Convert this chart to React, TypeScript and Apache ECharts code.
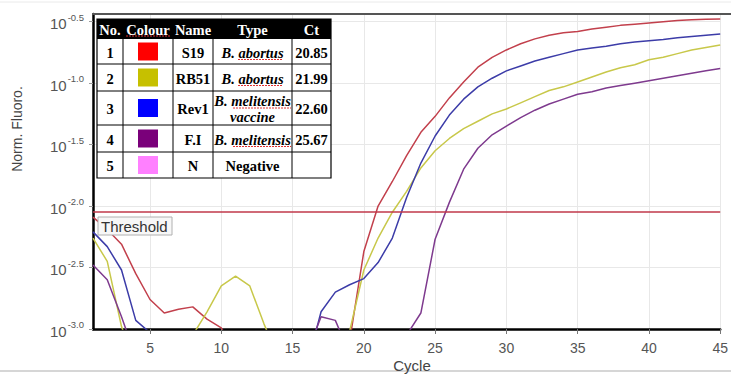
import React, { useEffect, useRef } from "react";
import * as echarts from "echarts";

// ---------- data ----------
const cycles = ["1","2","3","4","5","6","7","8","9","10","11","12","13","14","15","16","17","18","19","20","21","22","23","24","25","26","27","28","29","30","31","32","33","34","35","36","37","38","39","40","41","42","43","44","45"];

// log10(normalised fluorescence)
const s19 = [-2.09,-2.19,-2.31,-2.55,-2.76,-2.87,-2.84,-2.82,-2.92,-2.99,-3.2,null,null,null,null,null,null,null,-3.1,-2.37,-2.0,-1.8,-1.59,-1.4,-1.27,-1.12,-0.99,-0.87,-0.79,-0.73,-0.68,-0.64,-0.61,-0.59,-0.58,-0.56,-0.545,-0.53,-0.52,-0.51,-0.5,-0.49,-0.485,-0.48,-0.478];
const rb51 = [-2.26,-2.45,-2.98,-3.3,null,null,null,-3.05,-2.86,-2.65,-2.57,-2.65,-2.96,-3.23,null,null,null,-3.3,-3.02,-2.52,-2.26,-2.05,-1.88,-1.69,-1.55,-1.45,-1.37,-1.31,-1.25,-1.21,-1.16,-1.11,-1.06,-1.03,-0.99,-0.95,-0.91,-0.875,-0.85,-0.81,-0.79,-0.76,-0.73,-0.71,-0.69];
const rev1 = [-2.21,-2.33,-2.52,-2.93,-3.03,-3.3,null,null,null,null,null,null,null,null,null,-3.3,-2.86,-2.7,-2.64,-2.59,-2.46,-2.26,-1.93,-1.65,-1.43,-1.26,-1.13,-1.03,-0.96,-0.9,-0.86,-0.82,-0.79,-0.76,-0.73,-0.715,-0.7,-0.68,-0.665,-0.655,-0.645,-0.63,-0.62,-0.61,-0.6];
const fi = [-2.48,-2.6,-2.9,-3.23,null,null,null,null,null,null,null,null,null,null,null,-3.2,-2.9,-2.93,-3.2,null,null,-3.3,-3.05,-2.87,-2.27,-1.97,-1.7,-1.53,-1.42,-1.35,-1.28,-1.22,-1.17,-1.13,-1.09,-1.07,-1.04,-1.02,-1.0,-0.98,-0.96,-0.94,-0.92,-0.9,-0.88];
const thresholdLog = -2.046;

// table
const tableHeader = ["No.", "Colour", "Name", "Type", "Ct"];
const tableNo = ["1", "2", "3", "4", "5"];
const tableSwatch = ["#ff0000", "#c6c000", "#0000ff", "#7a007a", "#ff80ff"];
const tableName = ["S19", "RB51", "Rev1", "F.I", "N"];
const tableType = ["B. abortus", "B. abortus", "B. melitensis\nvaccine", "B. melitensis", "Negative"];
const tableCt = ["20.85", "21.99", "22.60", "25.67", ""];

const SANS = "'Liberation Sans', Arial, sans-serif";
const SERIF = "'Liberation Serif', 'Times New Roman', serif";
const TF = 14.5;

function buildTable() {
  const colX = [97, 123, 173, 213, 292, 331];
  const rowY = [19, 39, 64, 91, 125, 152, 178];
  const els: any[] = [];
  els.push({ type: "rect", shape: { x: colX[0], y: rowY[0], width: colX[5] - colX[0], height: rowY[6] - rowY[0] }, style: { fill: "#fff", stroke: "#000", lineWidth: 1.2 }, z: 10 });
  els.push({ type: "rect", shape: { x: colX[0], y: rowY[0], width: colX[5] - colX[0], height: rowY[1] - rowY[0] }, style: { fill: "#000" }, z: 11 });
  for (let r = 2; r < 6; r++) {
    els.push({ type: "line", shape: { x1: colX[0], y1: rowY[r], x2: colX[5], y2: rowY[r] }, style: { stroke: "#000", lineWidth: 1 }, z: 11 });
  }
  for (let c = 1; c < 5; c++) {
    els.push({ type: "line", shape: { x1: colX[c], y1: rowY[1], x2: colX[c], y2: rowY[6] }, style: { stroke: "#000", lineWidth: 1 }, z: 11 });
  }
  const cx = (c: number) => (colX[c] + colX[c + 1]) / 2;
  tableHeader.forEach((h, c) => {
    els.push({ type: "text", x: cx(c), y: (rowY[0] + rowY[1]) / 2 + 1, style: { text: h, fill: "#fff", font: `bold ${TF}px ${SERIF}`, align: "center", verticalAlign: "middle" }, z: 12 });
  });
  // spell-check squiggle under "Colour"
  els.push({ type: "line", shape: { x1: 126, y1: 36, x2: 170, y2: 36 }, style: { stroke: "#e03030", lineWidth: 1, lineDash: [2, 1] }, z: 12 });
  for (let r = 0; r < 5; r++) {
    const cy = (rowY[r + 1] + rowY[r + 2]) / 2 + 1;
    els.push({ type: "text", x: cx(0), y: cy, style: { text: tableNo[r], fill: "#000", font: `bold ${TF}px ${SERIF}`, align: "center", verticalAlign: "middle" }, z: 12 });
    els.push({ type: "rect", shape: { x: cx(1) - 10, y: cy - 10, width: 20, height: 18 }, style: { fill: tableSwatch[r] }, z: 12 });
    els.push({ type: "text", x: cx(2), y: cy, style: { text: tableName[r], fill: "#000", font: `bold ${TF}px ${SERIF}`, align: "center", verticalAlign: "middle" }, z: 12 });
    const italic = tableType[r].startsWith("B.");
    els.push({ type: "text", x: cx(3), y: cy, style: { text: tableType[r], fill: "#000", font: `${italic ? "italic " : ""}bold ${TF}px ${SERIF}`, align: "center", verticalAlign: "middle", lineHeight: 16 }, z: 12 });
    if (italic) {
      const isMel = tableType[r].indexOf("melitensis") >= 0;
      const x1 = isMel ? 233 : 238;
      const x2 = isMel ? 291 : 283;
      const uy = isMel && tableType[r].indexOf("\n") >= 0 ? cy - 1 : cy + 7;
      els.push({ type: "line", shape: { x1, y1: uy, x2, y2: uy }, style: { stroke: "#e03030", lineWidth: 1, lineDash: [2, 1] }, z: 12 });
    }
    els.push({ type: "text", x: cx(4), y: cy, style: { text: tableCt[r], fill: "#000", font: `bold ${TF}px ${SERIF}`, align: "center", verticalAlign: "middle" }, z: 12 });
  }
  return els;
}

export default function App() {
  const ref = useRef<HTMLDivElement>(null);
  useEffect(() => {
    if (!ref.current) return;
    const chart = echarts.init(ref.current, null, { renderer: "svg" });
    const every5 = (i: number) => (i + 1) % 5 === 0;
    const lineSeries = (name: string, data: any[], color: string, extra: any = {}) => ({
      name,
      type: "line",
      data,
      showSymbol: false,
      connectNulls: false,
      clip: true,
      lineStyle: { color, width: 1.5 },
      itemStyle: { color },
      ...extra,
    });
    chart.setOption({
      animation: false,
      backgroundColor: "#fff",
      grid: { left: 93, right: 3, top: 14, bottom: 47, containLabel: false },
      xAxis: {
        type: "category",
        data: cycles,
        boundaryGap: false,
        axisLine: { lineStyle: { color: "#000", width: 2.5 } },
        axisTick: { show: true, interval: every5, length: 5, lineStyle: { color: "#777" } },
        axisLabel: { interval: every5, color: "#555", fontSize: 14, fontFamily: SANS, margin: 12 },
        splitLine: { show: true, interval: every5, lineStyle: { color: "#e8e8e8", width: 1 } },
      },
      yAxis: {
        type: "value",
        min: -3,
        max: -0.4375,
        interval: 0.5,
        axisLine: { show: true, lineStyle: { color: "#000", width: 2.5 } },
        axisTick: { show: true, length: 4, lineStyle: { color: "#999" } },
        splitLine: { show: true, lineStyle: { color: "#e8e8e8", width: 1 } },
        axisLabel: {
          showMaxLabel: false,
          margin: 9,
          fontSize: 15,
          fontFamily: SANS,
          color: "#555",
          formatter: (v: number) => `{b|10}{s|${v.toFixed(1)}}`,
          rich: {
            b: { fontSize: 15, color: "#555", fontFamily: SANS, verticalAlign: "bottom", lineHeight: 17 },
            s: { fontSize: 9.5, color: "#555", fontFamily: SANS, verticalAlign: "bottom", padding: [0, 0, 9, 1] },
          },
        },
      },
      series: [
        lineSeries("S19", s19, "#c2404c", {
          markLine: {
            silent: true,
            symbol: "none",
            label: { show: false },
            lineStyle: { color: "#c0394a", width: 1.5, type: "solid" },
            data: [{ yAxis: thresholdLog }],
          },
        }),
        lineSeries("RB51", rb51, "#c8c84a"),
        lineSeries("Rev1", rev1, "#3c3ca8"),
        lineSeries("F.I", fi, "#7e3a8e"),
      ],
      graphic: [
        { type: "line", shape: { x1: 0, y1: 2, x2: 731, y2: 2 }, style: { stroke: "#eaeaea", lineWidth: 1 }, z: 5 },
        { type: "line", shape: { x1: 92, y1: 14, x2: 731, y2: 14 }, style: { stroke: "#555", lineWidth: 2 }, z: 5 },
        { type: "line", shape: { x1: 0, y1: 371, x2: 731, y2: 371 }, style: { stroke: "#c8c8c8", lineWidth: 1.5 }, z: 5 },
        { type: "text", x: 17, y: 129, rotation: Math.PI / 2, style: { text: "Norm. Fluoro.", fill: "#444", font: `14px ${SANS}`, align: "center", verticalAlign: "middle" }, z: 5 },
        { type: "text", x: 412, y: 365, style: { text: "Cycle", fill: "#444", font: `15px ${SANS}`, align: "center", verticalAlign: "middle" }, z: 5 },
        { type: "rect", shape: { x: 98, y: 217, width: 74, height: 18 }, style: { fill: "#f7f7f7", stroke: "#b0b0b0", lineWidth: 1 }, z: 8 },
        { type: "text", x: 101, y: 226.5, style: { text: "Threshold", fill: "#333", font: `15px ${SANS}`, align: "left", verticalAlign: "middle" }, z: 9 },
        ...buildTable(),
      ],
    });
    return () => chart.dispose();
  }, []);
  return <div ref={ref} style={{ width: 731, height: 376, position: "absolute", left: 0, top: 0 }} />;
}
